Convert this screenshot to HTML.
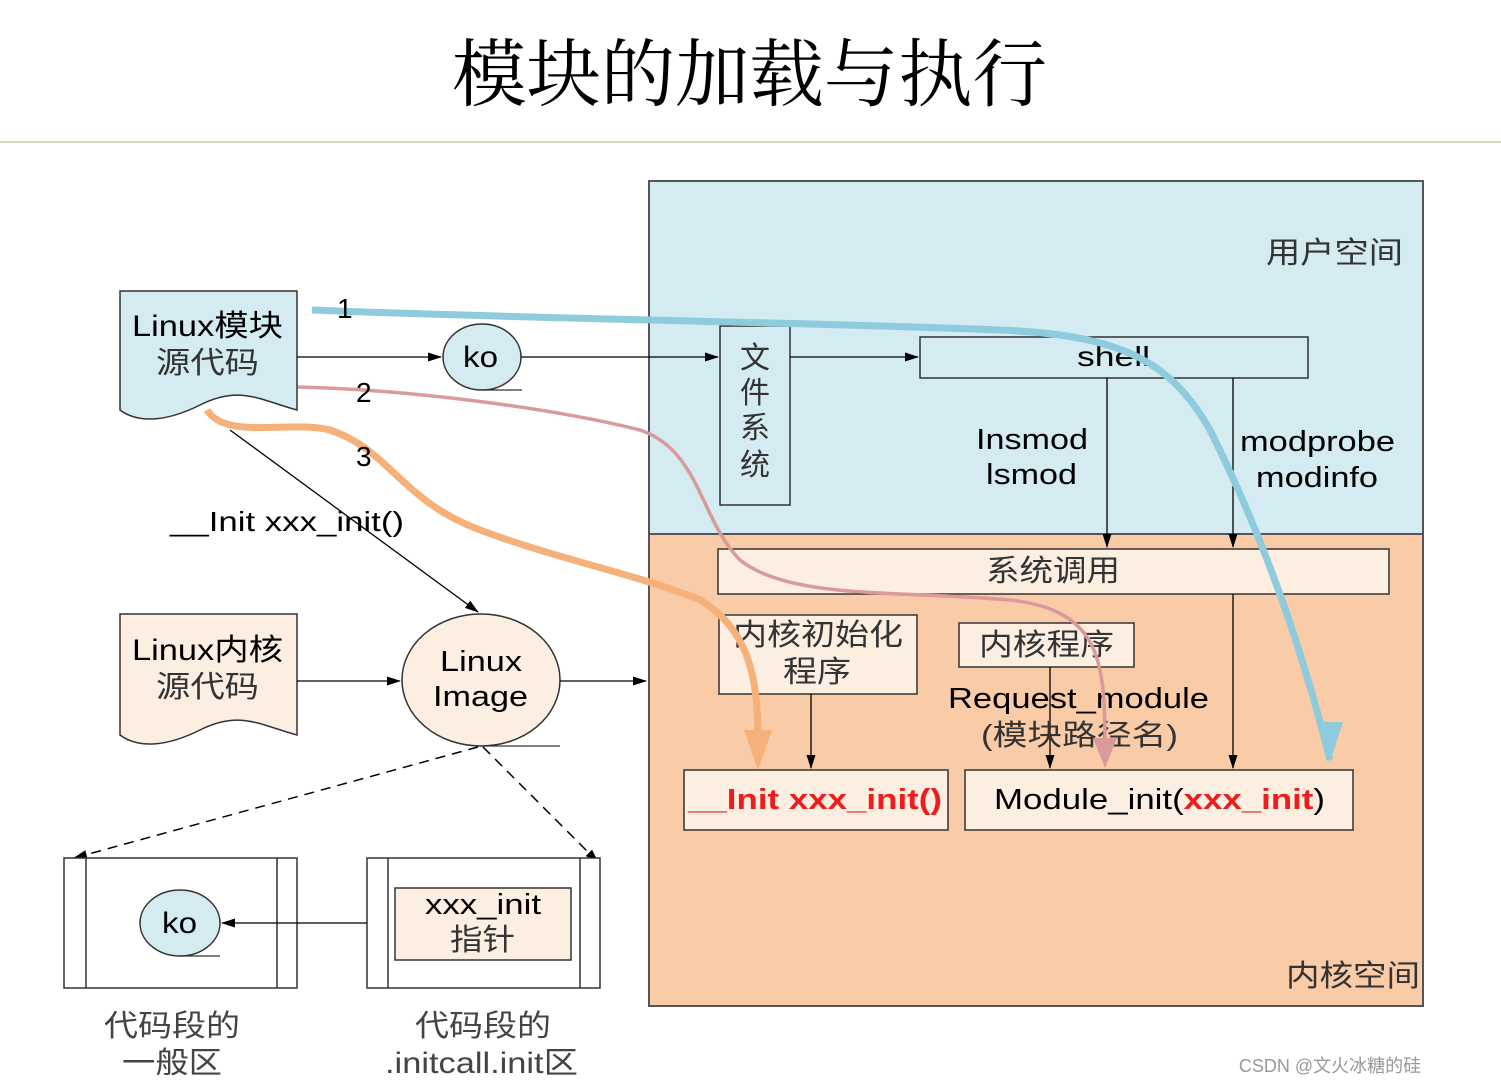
<!DOCTYPE html>
<html><head><meta charset="utf-8"><style>
html,body{margin:0;padding:0;background:#fff;}
svg{display:block;}
text{font-family:"Liberation Sans","Noto Sans CJK SC",sans-serif;}
</style></head><body>
<svg width="1501" height="1084" viewBox="0 0 1501 1084" xmlns="http://www.w3.org/2000/svg">
<defs>
<marker id="a" markerWidth="14" markerHeight="10" refX="13" refY="5" orient="auto" markerUnits="userSpaceOnUse" viewBox="0 0 14 10"><path d="M0,0.5 L14,5 L0,9.5 z" fill="#000"/></marker>
<marker id="ab" markerWidth="30" markerHeight="40" refX="15" refY="38" orient="0" markerUnits="userSpaceOnUse"><path d="M2,0 L28,0 L15,40 z" fill="#8ecbdc"/></marker>
</defs>
<text x="452" y="100" font-size="74" textLength="595" lengthAdjust="spacingAndGlyphs" style="font-family:'Noto Serif CJK SC',serif">模块的加载与执行</text>
<line x1="0" y1="142" x2="1501" y2="142" stroke="#d9d5c3" stroke-width="2"/>

<rect x="649" y="181" width="774" height="353" fill="#d3ebf1" stroke="#555" stroke-width="2"/>
<rect x="649" y="534" width="774" height="472" fill="#f9cba7" stroke="#555" stroke-width="2"/>
<text x="1266" y="263" font-size="30" textLength="137" lengthAdjust="spacingAndGlyphs" fill="#333">用户空间</text>
<text x="1286" y="986" font-size="30" textLength="134" lengthAdjust="spacingAndGlyphs" fill="#333">内核空间</text>

<!-- doc 1 -->
<path d="M120,291 H297 V410 C260,400 240,385 200,405 C170,420 140,425 120,410 Z" fill="#d3ebf1" stroke="#333" stroke-width="1.5"/>
<text x="132" y="336" font-size="30" textLength="151" lengthAdjust="spacingAndGlyphs">Linux模块</text>
<text x="156" y="373" font-size="30" textLength="103" lengthAdjust="spacingAndGlyphs" fill="#333">源代码</text>
<line x1="297" y1="357" x2="441" y2="357" stroke="#000" stroke-width="1.3" marker-end="url(#a)"/>
<ellipse cx="482" cy="357" rx="39" ry="33" fill="#d3ebf1" stroke="#333" stroke-width="1.5"/>
<line x1="482" y1="390" x2="522" y2="390" stroke="#333" stroke-width="1.3"/>
<text x="463" y="367" font-size="30" textLength="35" lengthAdjust="spacingAndGlyphs">ko</text>
<line x1="521" y1="357" x2="718" y2="357" stroke="#000" stroke-width="1.3" marker-end="url(#a)"/>

<rect x="720" y="326" width="70" height="179" fill="#d3ebf1" stroke="#333" stroke-width="1.5"/>
<g font-size="30" text-anchor="middle" fill="#333"><text x="755" y="368">文</text><text x="755" y="403">件</text><text x="755" y="438">系</text><text x="755" y="475">统</text></g>
<line x1="790" y1="357" x2="918" y2="357" stroke="#000" stroke-width="1.3" marker-end="url(#a)"/>
<rect x="920" y="337" width="388" height="41" fill="#d3ebf1" stroke="#333" stroke-width="1.5"/>
<text x="1077" y="366" font-size="28" textLength="73" lengthAdjust="spacingAndGlyphs">shell</text>
<line x1="1107" y1="378" x2="1107" y2="547" stroke="#000" stroke-width="1.3" marker-end="url(#a)"/>
<line x1="1233" y1="378" x2="1233" y2="547" stroke="#000" stroke-width="1.3" marker-end="url(#a)"/>
<text x="976" y="449" font-size="29" textLength="112" lengthAdjust="spacingAndGlyphs">Insmod</text>
<text x="986" y="484" font-size="29" textLength="91" lengthAdjust="spacingAndGlyphs">lsmod</text>
<text x="1240" y="451" font-size="29" textLength="155" lengthAdjust="spacingAndGlyphs">modprobe</text>
<text x="1256" y="487" font-size="29" textLength="122" lengthAdjust="spacingAndGlyphs">modinfo</text>

<rect x="718" y="549" width="671" height="45" fill="#fdeee2" stroke="#333" stroke-width="1.5"/>
<text x="986" y="581" font-size="30" textLength="134" lengthAdjust="spacingAndGlyphs" fill="#333">系统调用</text>
<line x1="1233" y1="594" x2="1233" y2="768" stroke="#000" stroke-width="1.3" marker-end="url(#a)"/>
<rect x="719" y="615" width="198" height="79" fill="#fdeee2" stroke="#333" stroke-width="1.5"/>
<text x="733" y="645" font-size="30" textLength="170" lengthAdjust="spacingAndGlyphs" fill="#333">内核初始化</text>
<text x="783" y="682" font-size="30" textLength="68" lengthAdjust="spacingAndGlyphs" fill="#333">程序</text>
<line x1="811" y1="694" x2="811" y2="768" stroke="#000" stroke-width="1.3" marker-end="url(#a)"/>
<rect x="959" y="623" width="175" height="44" fill="#fdeee2" stroke="#333" stroke-width="1.5"/>
<text x="979" y="655" font-size="30" textLength="135" lengthAdjust="spacingAndGlyphs" fill="#333">内核程序</text>
<line x1="1050" y1="667" x2="1050" y2="768" stroke="#000" stroke-width="1.3" marker-end="url(#a)"/>
<text x="948" y="708" font-size="29" textLength="261" lengthAdjust="spacingAndGlyphs">Request_module</text>
<text x="981" y="745" font-size="29" textLength="197" lengthAdjust="spacingAndGlyphs" fill="#333">(模块路径名)</text>
<rect x="684" y="770" width="264" height="60" fill="#fdeee2" stroke="#333" stroke-width="1.5"/>
<text x="688" y="809" font-size="29" textLength="254" lengthAdjust="spacingAndGlyphs" fill="#ee1c1c" font-weight="bold">__Init xxx_init()</text>
<rect x="965" y="770" width="388" height="60" fill="#fdeee2" stroke="#333" stroke-width="1.5"/>
<text x="994" y="809" font-size="29" textLength="331" lengthAdjust="spacingAndGlyphs">Module_init(<tspan fill="#ee1c1c" font-weight="bold">xxx_init</tspan>)</text>

<!-- doc 2 -->
<path d="M120,614 H297 V735 C260,725 240,710 200,730 C170,745 140,750 120,735 Z" fill="#fdeee2" stroke="#333" stroke-width="1.5"/>
<text x="132" y="660" font-size="30" textLength="151" lengthAdjust="spacingAndGlyphs">Linux内核</text>
<text x="156" y="697" font-size="30" textLength="103" lengthAdjust="spacingAndGlyphs" fill="#333">源代码</text>
<line x1="297" y1="681" x2="400" y2="681" stroke="#000" stroke-width="1.3" marker-end="url(#a)"/>
<ellipse cx="481" cy="680" rx="79" ry="66" fill="#fdeee2" stroke="#333" stroke-width="1.5"/>
<line x1="481" y1="746" x2="560" y2="746" stroke="#333" stroke-width="1.3"/>
<text x="440" y="671" font-size="29" textLength="82" lengthAdjust="spacingAndGlyphs">Linux</text>
<text x="433" y="706" font-size="29" textLength="95" lengthAdjust="spacingAndGlyphs">Image</text>
<line x1="560" y1="681" x2="646" y2="681" stroke="#000" stroke-width="1.3" marker-end="url(#a)"/>
<line x1="230" y1="430" x2="478" y2="612" stroke="#000" stroke-width="1.3" marker-end="url(#a)"/>
<text x="170" y="531" font-size="28" textLength="234" lengthAdjust="spacingAndGlyphs">__Init xxx_init()</text>

<line x1="478" y1="747" x2="74" y2="858" stroke="#000" stroke-width="1.5" stroke-dasharray="10,7" marker-end="url(#a)"/>
<line x1="483" y1="747" x2="598" y2="862" stroke="#000" stroke-width="1.5" stroke-dasharray="10,7" marker-end="url(#a)"/>

<rect x="64" y="858" width="233" height="130" fill="#fff" stroke="#333" stroke-width="1.5"/>
<line x1="86" y1="858" x2="86" y2="988" stroke="#333" stroke-width="1.5"/>
<line x1="277" y1="858" x2="277" y2="988" stroke="#333" stroke-width="1.5"/>
<rect x="367" y="858" width="233" height="130" fill="#fff" stroke="#333" stroke-width="1.5"/>
<line x1="388" y1="858" x2="388" y2="988" stroke="#333" stroke-width="1.5"/>
<line x1="580" y1="858" x2="580" y2="988" stroke="#333" stroke-width="1.5"/>
<rect x="395" y="888" width="176" height="72" fill="#fdeee2" stroke="#333" stroke-width="1.5"/>
<text x="425" y="914" font-size="29" textLength="116" lengthAdjust="spacingAndGlyphs">xxx_init</text>
<text x="450" y="950" font-size="30" textLength="65" lengthAdjust="spacingAndGlyphs" fill="#333">指针</text>
<ellipse cx="180" cy="923" rx="40" ry="33" fill="#d3ebf1" stroke="#333" stroke-width="1.5"/>
<line x1="180" y1="956" x2="220" y2="956" stroke="#333" stroke-width="1.3"/>
<text x="162" y="933" font-size="30" textLength="35" lengthAdjust="spacingAndGlyphs">ko</text>
<line x1="367" y1="923" x2="222" y2="923" stroke="#000" stroke-width="1.3" marker-end="url(#a)"/>
<g font-size="30" fill="#444">
<text x="104" y="1036" textLength="136" lengthAdjust="spacingAndGlyphs">代码段的</text><text x="122" y="1073" textLength="100" lengthAdjust="spacingAndGlyphs">一般区</text>
<text x="415" y="1036" textLength="136" lengthAdjust="spacingAndGlyphs">代码段的</text><text x="385" y="1073" textLength="193" lengthAdjust="spacingAndGlyphs">.initcall.init区</text></g>

<!-- curves -->
<path d="M312,310 C500,318 800,322 1000,330 C1120,335 1170,360 1210,430 C1260,530 1300,640 1330,760" fill="none" stroke="#8ecbdc" stroke-width="7" marker-end="url(#ab)"/>
<path d="M298,387 C420,390 560,410 640,430 C700,450 700,520 740,560 C790,600 900,590 1010,600 C1100,610 1105,660 1105,745" fill="none" stroke="#d99a9a" stroke-width="3.5"/>
<path d="M1093,738 L1117,738 L1105,768 z" fill="#d99a9a"/>
<path d="M207,410 C225,440 290,420 330,430 C390,450 400,500 480,530 C560,560 640,575 700,600 C750,630 758,680 758,740" fill="none" stroke="#f6b07a" stroke-width="7"/>
<path d="M744,730 L772,730 L758,770 z" fill="#f6b07a"/>
<g font-size="28"><text x="337" y="318">1</text><text x="356" y="402">2</text><text x="356" y="466">3</text></g>
<text x="1330" y="1072" font-size="18" text-anchor="middle" fill="#999">CSDN @文火冰糖的硅</text>
</svg>
</body></html>
